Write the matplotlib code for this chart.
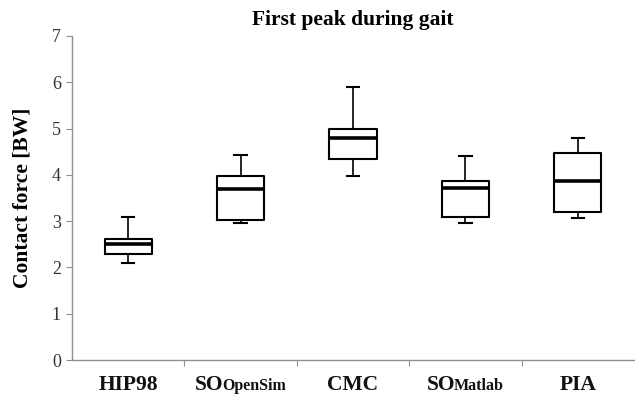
import matplotlib
matplotlib.use("Agg")
import matplotlib.pyplot as plt
from matplotlib.offsetbox import TextArea, HPacker, AnnotationBbox

# ─── Données ───────────────────────────────────────────────
methods   = ["HIP98", "SO", "CMC", "SO", "PIA"]
subscript = ["", "OpenSim", "", "Matlab", ""]
whis_lo   = [2.09, 2.95, 3.97, 2.95, 3.06]
q1        = [2.28, 3.02, 4.34, 3.10, 3.19]
median    = [2.50, 3.69, 4.80, 3.72, 3.87]
q3        = [2.61, 3.97, 4.98, 3.87, 4.48]
whis_hi   = [3.10, 4.43, 5.90, 4.41, 4.80]
y_ticks   = [0, 1, 2, 3, 4, 5, 6, 7]

SERIF = ["Liberation Serif", "DejaVu Serif"]
GREY = "#8f8f8f"

stats = []
for i in range(len(methods)):
    stats.append({
        "whislo": whis_lo[i], "q1": q1[i], "med": median[i],
        "q3": q3[i], "whishi": whis_hi[i], "fliers": [],
    })

fig = plt.figure(figsize=(6.35, 3.99), dpi=100)
ax = fig.add_axes([0.1134, 0.0977, 0.885, 0.8121])

positions = list(range(1, len(methods) + 1))
ax.bxp(stats, positions=positions, widths=0.42, showfliers=False,
       boxprops=dict(color="black", linewidth=1.5),
       medianprops=dict(color="black", linewidth=2.6),
       whiskerprops=dict(color="black", linewidth=1.2),
       capprops=dict(color="black", linewidth=1.5),
       capwidths=0.11, manage_ticks=False)

ax.set_xlim(0.5, len(methods) + 0.5)
ax.set_ylim(0, 7)
ax.set_yticks(y_ticks)
ax.set_yticklabels([str(v) for v in y_ticks], family=SERIF, fontsize=13,
                   color="#333333")

# séparateurs entre catégories
ax.set_xticks([p + 0.5 for p in positions[:-1]])
ax.set_xticklabels([])
ax.tick_params(axis="x", direction="out", length=4, color=GREY, width=0.8)
ax.tick_params(axis="y", direction="out", length=4, color=GREY, width=0.8, pad=4)

for side in ["top", "right"]:
    ax.spines[side].set_visible(False)
for side in ["left", "bottom"]:
    ax.spines[side].set_color(GREY)
    ax.spines[side].set_linewidth(1.0)

# étiquettes x (avec indice pour SO)
for pos, name, sub in zip(positions, methods, subscript):
    parts = [TextArea(name, textprops=dict(family=SERIF, fontsize=15.5,
                                           fontweight="bold", color="#111111"))]
    if sub:
        parts.append(TextArea(sub, textprops=dict(family=SERIF, fontsize=11.5,
                                                  fontweight="bold", color="#111111")))
    pack = HPacker(children=parts, align="baseline", pad=0, sep=-1)
    ab = AnnotationBbox(pack, (pos, 0), xybox=(0, -18), xycoords="data",
                        boxcoords="offset points", frameon=False,
                        box_alignment=(0.5, 0.5), annotation_clip=False)
    ax.add_artist(ab)

ax.set_ylabel("Contact force [BW]", family=SERIF, fontsize=15.5,
              fontweight="bold", labelpad=14)
ax.set_title("First peak during gait", family=SERIF, fontsize=15.5,
             fontweight="bold", pad=8)

fig.savefig("out.png", dpi=100)
plt.close(fig)
